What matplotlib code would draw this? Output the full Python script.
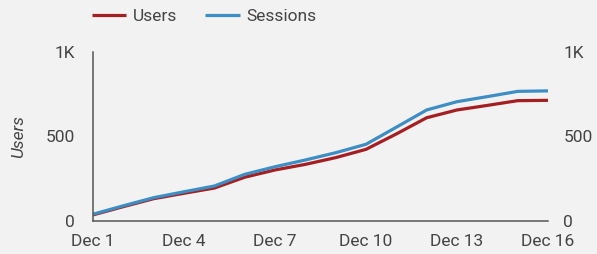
import matplotlib
matplotlib.use('Agg')
import matplotlib.pyplot as plt
import matplotlib.ticker as mticker
import numpy as np

plt.rcParams['font.family'] = ['Roboto', 'DejaVu Sans']

days = ['Dec %d' % d for d in range(1, 17)]
users = [36, 85, 132, 164, 195, 259, 302, 335, 375, 424, 515, 611, 657, 684, 712, 714]
sessions = [40, 90, 138, 173, 207, 276, 321, 361, 404, 454, 555, 657, 706, 736, 767, 770]
tick_days = ['Dec 1', 'Dec 4', 'Dec 7', 'Dec 10', 'Dec 13', 'Dec 16']

bg = '#f2f2f2'
txt = '#444444'
red = '#a51f22'
blue = '#3d8ec4'

fig = plt.figure(figsize=(5.97, 2.54), dpi=100, facecolor=bg)
ax = fig.add_axes([93 / 597, 1 - 221 / 254, 455 / 597, 169 / 254])
ax.set_facecolor(bg)

x = np.arange(len(days))
ax.plot(x, users, color=red, lw=2.3, label='Users', solid_capstyle='butt')
ax.plot(x, sessions, color=blue, lw=2.3, label='Sessions', solid_capstyle='butt')

ax.set_xlim(0, len(days) - 1)
ax.set_ylim(0, 1000)
ax.set_xticks([days.index(d) for d in tick_days])
ax.set_xticklabels(tick_days)


def kfmt(v, pos):
    return '1K' if v >= 1000 else '%d' % v


ax.yaxis.set_major_locator(mticker.FixedLocator([0, 500, 1000]))
ax.yaxis.set_major_formatter(mticker.FuncFormatter(kfmt))
ax.tick_params(axis='both', length=0, labelsize=12.5, colors=txt)
ax.tick_params(axis='y', pad=13)
ax.tick_params(axis='x', pad=9)
for s in ['top', 'right']:
    ax.spines[s].set_visible(False)
for s in ['left', 'bottom']:
    ax.spines[s].set_color('#555555')
    ax.spines[s].set_linewidth(1.1)
ax.set_ylabel('Users', fontsize=12.5, color=txt, style='italic', labelpad=14)

ax2 = ax.twinx()
ax2.set_ylim(0, 1000)
ax2.yaxis.set_major_locator(mticker.FixedLocator([0, 500, 1000]))
ax2.yaxis.set_major_formatter(mticker.FuncFormatter(kfmt))
ax2.tick_params(axis='y', length=0, labelsize=12.5, colors=txt, pad=11)
for s in ax2.spines.values():
    s.set_visible(False)

fig.legend(loc='upper left', bbox_to_anchor=(76 / 597, 1.025), ncol=2, frameon=False,
           fontsize=12.5, handlelength=2.0, handletextpad=0.35, columnspacing=1.65,
           labelcolor=txt)

fig.savefig('out.png', dpi=100, facecolor=bg)
